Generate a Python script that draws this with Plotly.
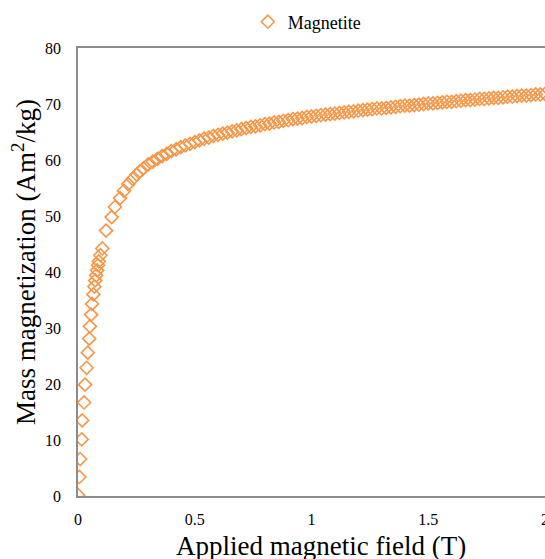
import plotly.graph_objects as go

field_low = [0.0, 0.006, 0.009, 0.016, 0.018, 0.026, 0.030, 0.037, 0.042, 0.048, 0.051,
             0.056, 0.060, 0.066, 0.070, 0.074, 0.078, 0.082, 0.086, 0.089, 0.096, 0.104,
             0.120, 0.144, 0.158, 0.180, 0.197, 0.215, 0.234, 0.251, 0.266]
mag_low = [0.2, 3.4, 6.6, 10.1, 13.5, 16.7, 19.9, 22.9, 25.6, 28.1, 30.3,
           32.4, 34.3, 36.0, 37.4, 38.5, 39.4, 40.3, 41.2, 41.9, 43.0, 44.2,
           47.4, 49.8, 51.6, 53.2, 54.5, 55.7, 56.6, 57.4, 58.0]

field_high = [0.28, 0.30, 0.32, 0.34, 0.36, 0.38, 0.40, 0.42, 0.44, 0.46, 0.48,
              0.50, 0.52, 0.54, 0.56, 0.58, 0.60, 0.62, 0.64, 0.66, 0.68, 0.70,
              0.72, 0.74, 0.76, 0.78, 0.80, 0.82, 0.84, 0.86, 0.88, 0.90, 0.92,
              0.94, 0.96, 0.98, 1.00, 1.02, 1.04, 1.06, 1.08, 1.10, 1.12, 1.14,
              1.16, 1.18, 1.20, 1.22, 1.24, 1.26, 1.28, 1.30, 1.32, 1.34, 1.36,
              1.38, 1.40, 1.42, 1.44, 1.46, 1.48, 1.50, 1.52, 1.54, 1.56, 1.58,
              1.60, 1.62, 1.64, 1.66, 1.68, 1.70, 1.72, 1.74, 1.76, 1.78, 1.80,
              1.82, 1.84, 1.86, 1.88, 1.90, 1.92, 1.94, 1.96, 1.98, 2.00]
mag_high = [58.5, 59.2, 59.7, 60.2, 60.7, 61.1, 61.6, 61.9, 62.3, 62.6, 62.9,
            63.2, 63.5, 63.8, 64.0, 64.3, 64.5, 64.7, 64.9, 65.1, 65.3, 65.5,
            65.7, 65.9, 66.0, 66.2, 66.4, 66.5, 66.7, 66.8, 67.0, 67.1, 67.3,
            67.4, 67.5, 67.7, 67.8, 67.9, 68.0, 68.1, 68.2, 68.3, 68.4, 68.5,
            68.6, 68.7, 68.8, 68.9, 69.0, 69.1, 69.2, 69.2, 69.3, 69.4, 69.5,
            69.6, 69.7, 69.7, 69.8, 69.9, 70.0, 70.1, 70.1, 70.2, 70.3, 70.4,
            70.4, 70.5, 70.6, 70.7, 70.7, 70.8, 70.9, 70.9, 71.0, 71.1, 71.1,
            71.2, 71.3, 71.3, 71.4, 71.5, 71.5, 71.6, 71.7, 71.7, 71.8]

x_ticks = [0, 0.5, 1, 1.5, 2]
x_tick_labels = ["0", "0.5", "1", "1.5", "2"]
y_ticks = [0, 10, 20, 30, 40, 50, 60, 70, 80]

x_title = "Applied magnetic field (T)"
y_title = "Mass magnetization (Am<sup>2</sup>/kg)"

FONT = "Liberation Serif"
ORANGE = "#F79646"
AXIS = "#8C8C8C"

fig = go.Figure()
fig.add_trace(go.Scatter(
    x=field_low + field_high,
    y=mag_low + mag_high,
    mode="markers",
    name="Magnetite",
    marker=dict(symbol="diamond-open", size=10, color=ORANGE, line=dict(width=1.6, color=ORANGE)),
))

fig.update_layout(
    width=545, height=559,
    margin=dict(l=78, r=0, t=48, b=63, autoexpand=False),
    paper_bgcolor="white", plot_bgcolor="white",
    font=dict(family=FONT, color="black", size=16),
    showlegend=True,
    legend=dict(orientation="h", x=0.49, xanchor="center", y=1.058, yanchor="middle",
                font=dict(size=18, family=FONT, color="black"), itemwidth=30,
                bgcolor="rgba(0,0,0,0)"),
    xaxis=dict(range=[0, 2], tickvals=x_ticks, ticktext=x_tick_labels,
               showgrid=False, zeroline=False, showline=True, linecolor=AXIS, linewidth=1.5,
               mirror=True, ticks="", ticklabelstandoff=8, ticklabeloverflow="allow",
               automargin=False, tickfont=dict(size=16, family=FONT)),
    yaxis=dict(range=[0, 80], tickvals=y_ticks,
               showgrid=False, zeroline=False, showline=True, linecolor=AXIS, linewidth=1.5,
               ticks="", ticklabelstandoff=12, automargin=False,
               tickfont=dict(size=16, family=FONT)),
    annotations=[
        dict(text=x_title, xref="paper", yref="paper", x=(321 - 78) / 467, y=(496 - 546) / 448,
             xanchor="center", yanchor="middle", showarrow=False,
             font=dict(size=27, family=FONT, color="black")),
        dict(text=y_title, xref="paper", yref="paper", x=(24 - 78) / 467, y=(496 - 262) / 448,
             xanchor="center", yanchor="middle", showarrow=False, textangle=-90,
             font=dict(size=27, family=FONT, color="black")),
    ],
)

fig.write_html("out.html", config={"displayModeBar": False},
               post_script="document.body.style.margin='0';document.body.style.overflow='hidden';")
